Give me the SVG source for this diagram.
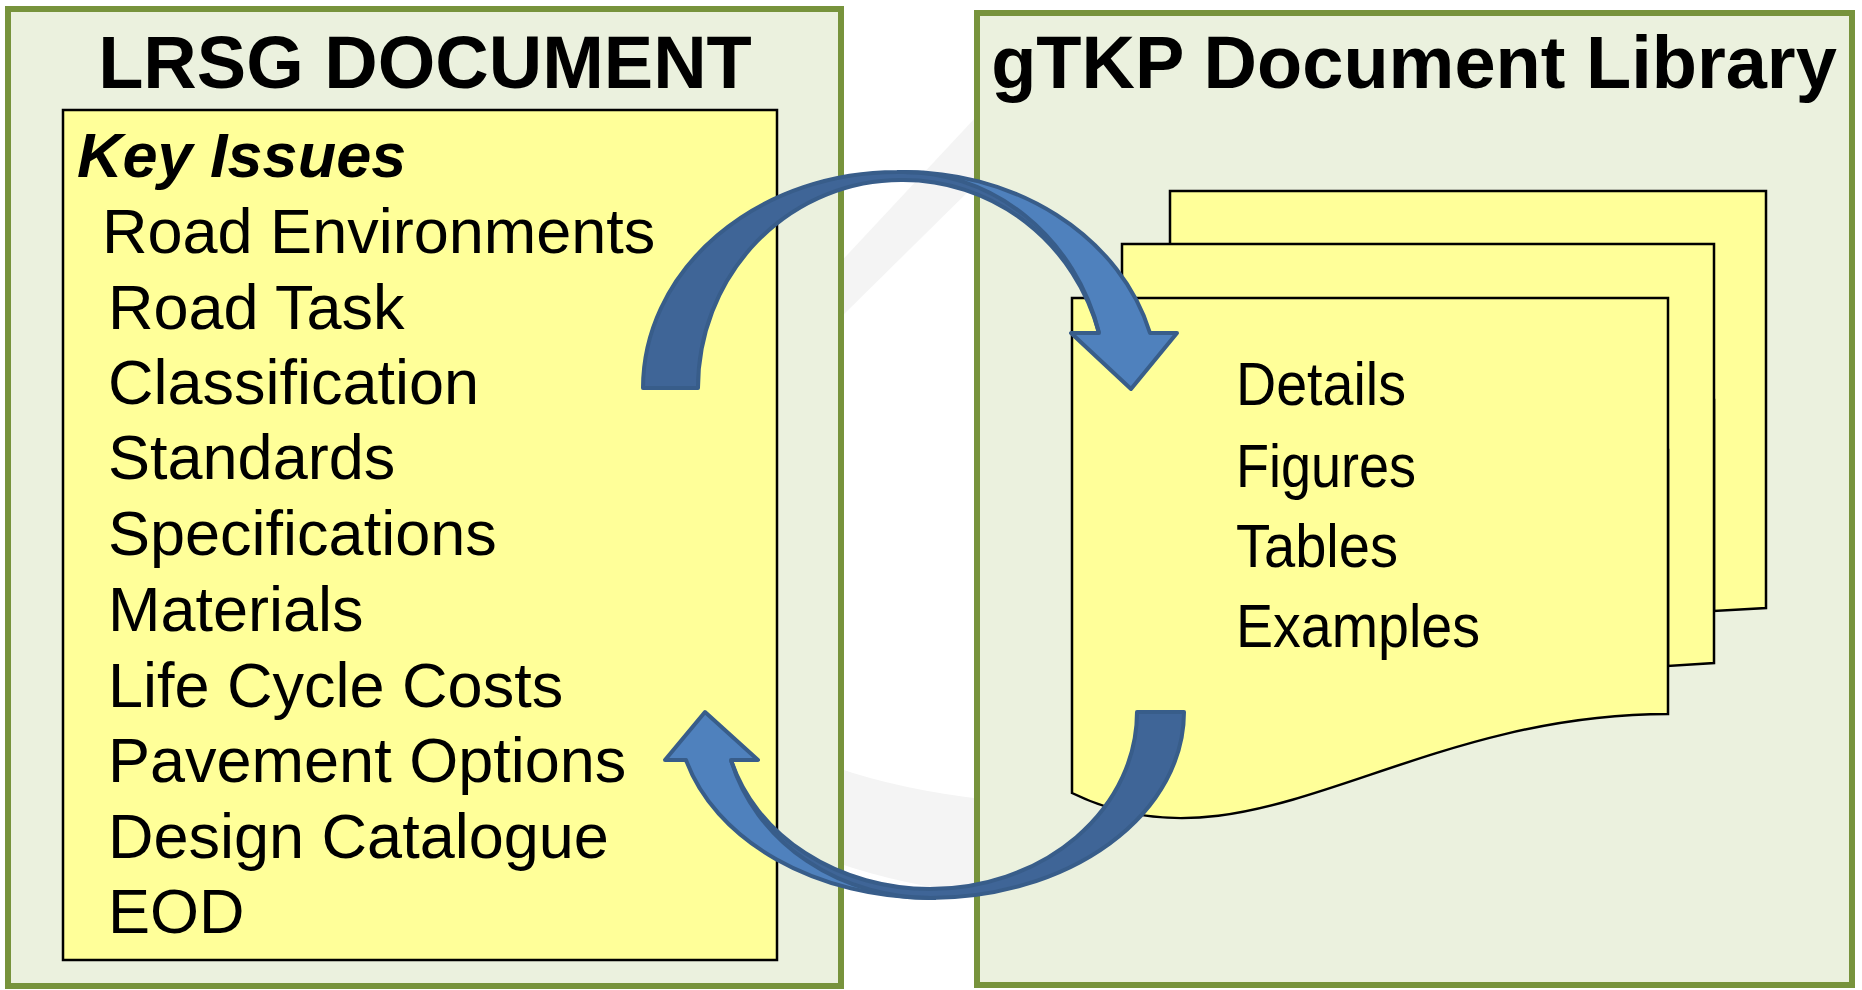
<svg xmlns="http://www.w3.org/2000/svg" width="1862" height="990" viewBox="0 0 1862 990">
  <style>
    .panel { fill: #EBF1DE; stroke: #77933C; stroke-width: 6; }
    .note { fill: #FFFF99; stroke: #000000; stroke-width: 2.5; stroke-linejoin: miter; }
    .title { font-family: "Liberation Sans", Arial, sans-serif; font-weight: bold; font-size: 74px; fill: #000; }
    .item { font-family: "Liberation Sans", Arial, sans-serif; font-size: 63px; fill: #000; }
    .head { font-family: "Liberation Sans", Arial, sans-serif; font-size: 63px; font-weight: bold; font-style: italic; fill: #000; }
    .lib { font-family: "Liberation Sans", Arial, sans-serif; font-size: 62px; fill: #000; }
    .aback { fill: #3F6597; stroke: none; }
    .afront { fill: #4F81BD; stroke: none; }
    .aline { fill: none; stroke: #385D8A; stroke-width: 4; stroke-linejoin: round; }
    .ghost { fill: #F4F4F4; }
  </style>
  <rect width="1862" height="990" fill="#FFFFFF"/>

  <g id="watermark">
    <path class="ghost" d="M990,102 L835,268 L835,323 L990,170 Z"/>
    <path class="ghost" d="M835,767 Q900,790 990,800 L990,896 Q900,885 835,862 Z"/>
  </g>

  <g id="lrsg-document">
    <rect class="panel" x="8" y="9" width="833" height="977"/>
    <text class="title" x="425" y="88" text-anchor="middle">LRSG DOCUMENT</text>
    <g id="key-issues">
      <rect class="note" x="63" y="110" width="714" height="850"/>
      <text class="head" x="77" y="177">Key Issues</text>
      <text class="item" x="102" y="253">Road Environments</text>
      <text class="item" x="108" y="329">Road Task</text>
      <text class="item" x="108" y="404">Classification</text>
      <text class="item" x="108" y="479">Standards</text>
      <text class="item" x="108" y="555">Specifications</text>
      <text class="item" x="108" y="631">Materials</text>
      <text class="item" x="108" y="707">Life Cycle Costs</text>
      <text class="item" x="108" y="782">Pavement Options</text>
      <text class="item" x="108" y="858">Design Catalogue</text>
      <text class="item" x="108" y="933">EOD</text>
    </g>
  </g>

  <g id="gtkp-library">
    <rect class="panel" x="977" y="13" width="875" height="972"/>
    <text class="title" x="1414" y="88" text-anchor="middle">gTKP Document Library</text>
    <g id="document-stack">
      <path class="note" d="M1170,191 H1766 V608 L1714,611 L1714,400 L1170,400 Z"/>
      <path class="note" d="M1122,244 H1714 V663 L1668,666 L1668,450 L1122,450 Z"/>
      <path class="note" d="M1072,298 H1668 V714 C1400,714 1250,880 1072,793 Z"/>
      <text class="lib" x="1236" y="405" textLength="170" lengthAdjust="spacingAndGlyphs">Details</text>
      <text class="lib" x="1236" y="487" textLength="180" lengthAdjust="spacingAndGlyphs">Figures</text>
      <text class="lib" x="1236" y="567" textLength="162" lengthAdjust="spacingAndGlyphs">Tables</text>
      <text class="lib" x="1236" y="647" textLength="244" lengthAdjust="spacingAndGlyphs">Examples</text>
    </g>
  </g>

  <g id="connectors">
    <g id="arrow-to-library">
      <path class="aback" d="M643,388 A254,216 0 0 1 897,172 A254,216 0 0 1 1150,333 L1177,333 L1131,389 L1071,333 L1099,333 A203,208 0 0 0 901,180 A203,208 0 0 0 698,388 Z"/>
      <path class="afront" d="M897,172 A254,216 0 0 1 1150,333 L1177,333 L1131,389 L1071,333 L1099,333 A203,216 0 0 0 897,172 Z"/>
      <path class="aline" d="M1099,333 A203,216 0 0 0 897,172"/>
      <path class="aline" d="M643,388 A254,216 0 0 1 897,172 A254,216 0 0 1 1150,333 L1177,333 L1131,389 L1071,333 L1099,333 A203,208 0 0 0 901,180 A203,208 0 0 0 698,388 Z"/>
    </g>
    <g id="arrow-to-lrsg">
      <path class="aback" d="M1184,712 A254,186 0 0 1 930,898 A254,186 0 0 1 686,760 L665,760 L705,712 L758,760 L731,760 A207,177 0 0 0 930,889 A207,177 0 0 0 1137,712 Z"/>
      <path class="afront" d="M936,898 A254,186 0 0 1 686,760 L665,760 L705,712 L758,760 L731,760 A207,186 0 0 0 936,898 Z"/>
      <path class="aline" d="M731,760 A207,186 0 0 0 936,898"/>
      <path class="aline" d="M1184,712 A254,186 0 0 1 930,898 A254,186 0 0 1 686,760 L665,760 L705,712 L758,760 L731,760 A207,177 0 0 0 930,889 A207,177 0 0 0 1137,712 Z"/>
    </g>
  </g>
</svg>
